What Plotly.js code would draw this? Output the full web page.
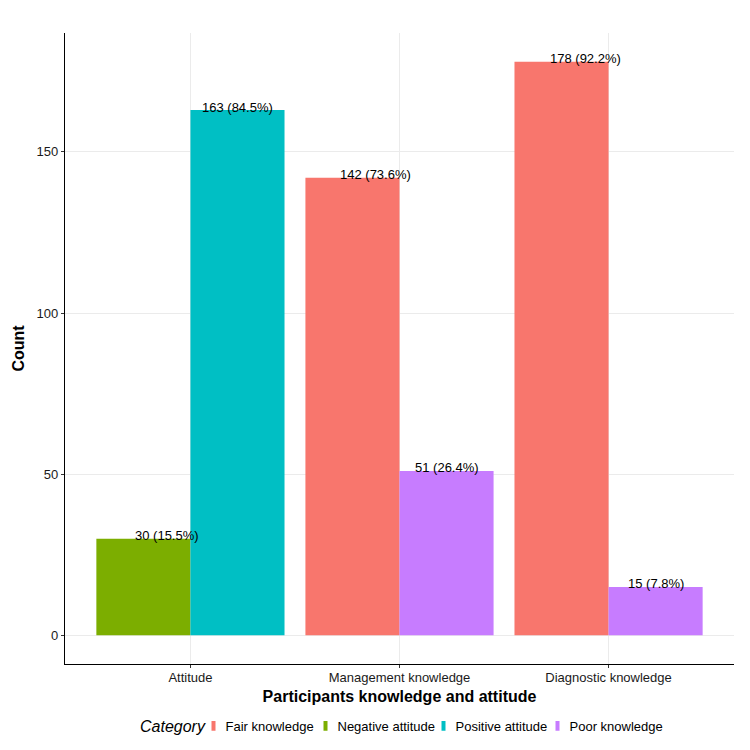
<!DOCTYPE html>
<html>
<head>
<meta charset="utf-8">
<script src="https://cdn.plot.ly/plotly-3.0.1.min.js"></script>
<style>
  html, body { margin: 0; padding: 0; background: #ffffff; }
  #chart { width: 750px; height: 750px; }
</style>
</head>
<body>
<div id="chart"></div>
<script>
// Groups along the x axis
const groups = ['Attitude', 'Management knowledge', 'Diagnostic knowledge'];

// Response categories (legend order)
const categoryNames = ['Fair knowledge', 'Negative attitude', 'Positive attitude', 'Poor knowledge'];

// Counts and percentages per category
const fairGroups = ['Management knowledge', 'Diagnostic knowledge'];
const fairCounts = [142, 178];
const fairPercents = [73.6, 92.2];

const negativeGroups = ['Attitude'];
const negativeCounts = [30];
const negativePercents = [15.5];

const positiveGroups = ['Attitude'];
const positiveCounts = [163];
const positivePercents = [84.5];

const poorGroups = ['Management knowledge', 'Diagnostic knowledge'];
const poorCounts = [51, 15];
const poorPercents = [26.4, 7.8];

const yTicks = [0, 50, 100, 150];

// Styling
const palette = {
  'Fair knowledge': '#F8766D',
  'Negative attitude': '#7CAE00',
  'Positive attitude': '#00BFC4',
  'Poor knowledge': '#C77CFF'
};
// Legend entry widths (px), keeps the key row compact
const legendWidths = {
  'Fair knowledge': 67,
  'Negative attitude': 73,
  'Positive attitude': 69,
  'Poor knowledge': 95
};
const FONT = 'Liberation Sans, Arial, Helvetica, sans-serif';
const BAR_W = 0.45;

// Plot area in pixels (used to place the legend title)
const M = { l: 65, r: 16, t: 33, b: 86.4 };
const PLOT_W = 750 - M.l - M.r;
const PLOT_H = 750 - M.t - M.b;

// name, groups, counts, percents, slot (0 = left half, 1 = right half)
const series = [
  { name: 'Fair knowledge', x: fairGroups, y: fairCounts, pct: fairPercents, slot: 0 },
  { name: 'Negative attitude', x: negativeGroups, y: negativeCounts, pct: negativePercents, slot: 0 },
  { name: 'Positive attitude', x: positiveGroups, y: positiveCounts, pct: positivePercents, slot: 1 },
  { name: 'Poor knowledge', x: poorGroups, y: poorCounts, pct: poorPercents, slot: 1 }
];

const traces = [];
const annotations = [];

series.forEach(s => {
  traces.push({
    type: 'bar',
    name: s.name,
    x: s.x,
    y: s.y,
    offset: s.slot === 0 ? -BAR_W : 0,
    width: BAR_W,
    marker: { color: palette[s.name], line: { width: 0 } },
    showlegend: false,
    hoverinfo: 'x+y+name'
  });
  s.x.forEach((g, i) => {
    annotations.push({
      x: groups.indexOf(g) + (s.slot === 0 ? -0.1125 : 0.225),
      y: s.y[i],
      xref: 'x', yref: 'y',
      text: s.y[i] + ' (' + s.pct[i].toFixed(1) + '%)',
      showarrow: false,
      xanchor: 'center', yanchor: 'middle',
      yshift: 3,
      font: { family: FONT, size: 13, color: '#000000' }
    });
  });
});

// Legend title
annotations.push({
  x: (138 - M.l) / PLOT_W,
  y: (PLOT_H - (726 - M.t)) / PLOT_H,
  xref: 'paper', yref: 'paper',
  text: '<i>Category</i>',
  showarrow: false,
  xanchor: 'left', yanchor: 'middle',
  font: { family: FONT, size: 16, color: '#000000' }
});

// Legend keys: narrow vertical swatches
categoryNames.forEach(name => {
  traces.push({
    type: 'scatter',
    mode: 'markers',
    name: name,
    x: [null], y: [null],
    marker: {
      symbol: 'line-ew',
      angle: 90,
      standoff: 8,
      size: 7,
      color: palette[name],
      line: { color: palette[name], width: 4 }
    },
    legendwidth: legendWidths[name],
    showlegend: true,
    hoverinfo: 'skip'
  });
});

const layout = {
  width: 750,
  height: 750,
  paper_bgcolor: '#ffffff',
  plot_bgcolor: '#ffffff',
  margin: M,
  font: { family: FONT, size: 13, color: '#333333' },
  showlegend: true,
  bargap: 0.1,
  xaxis: {
    type: 'category',
    categoryorder: 'array',
    categoryarray: groups,
    range: [-0.6, 2.6],
    showgrid: true,
    gridcolor: '#EBEBEB',
    gridwidth: 1,
    showline: true,
    linecolor: '#000000',
    linewidth: 1.2,
    ticks: 'outside',
    ticklen: 3,
    tickwidth: 1,
    tickcolor: '#333333',
    ticklabelstandoff: -2,
    tickfont: { family: FONT, size: 13, color: '#1a1a1a' },
    zeroline: false,
    automargin: false,
    title: {
      text: '<b>Participants knowledge and attitude</b>',
      font: { family: FONT, size: 16, color: '#000000' },
      standoff: 7
    }
  },
  yaxis: {
    range: [-8.9, 186.9],
    tickvals: yTicks,
    ticktext: yTicks.map(String),
    showgrid: true,
    gridcolor: '#EBEBEB',
    gridwidth: 1,
    showline: true,
    linecolor: '#000000',
    linewidth: 1.2,
    ticks: 'outside',
    ticklen: 3,
    tickwidth: 1,
    tickcolor: '#333333',
    tickfont: { family: FONT, size: 13, color: '#1a1a1a' },
    zeroline: false,
    automargin: false,
    title: {
      text: '<b>Count</b>',
      font: { family: FONT, size: 16, color: '#000000' },
      standoff: 7
    }
  },
  legend: {
    orientation: 'h',
    xref: 'container',
    x: 185.5 / 750, xanchor: 'left',
    yref: 'container',
    y: 1 - 726 / 750, yanchor: 'middle',
    font: { family: FONT, size: 13, color: '#000000' },
    itemwidth: 30,
    traceorder: 'normal',
    bgcolor: 'rgba(0,0,0,0)'
  },
  annotations: annotations
};

Plotly.newPlot('chart', traces, layout, { displayModeBar: false, responsive: false });
</script>
</body>
</html>
